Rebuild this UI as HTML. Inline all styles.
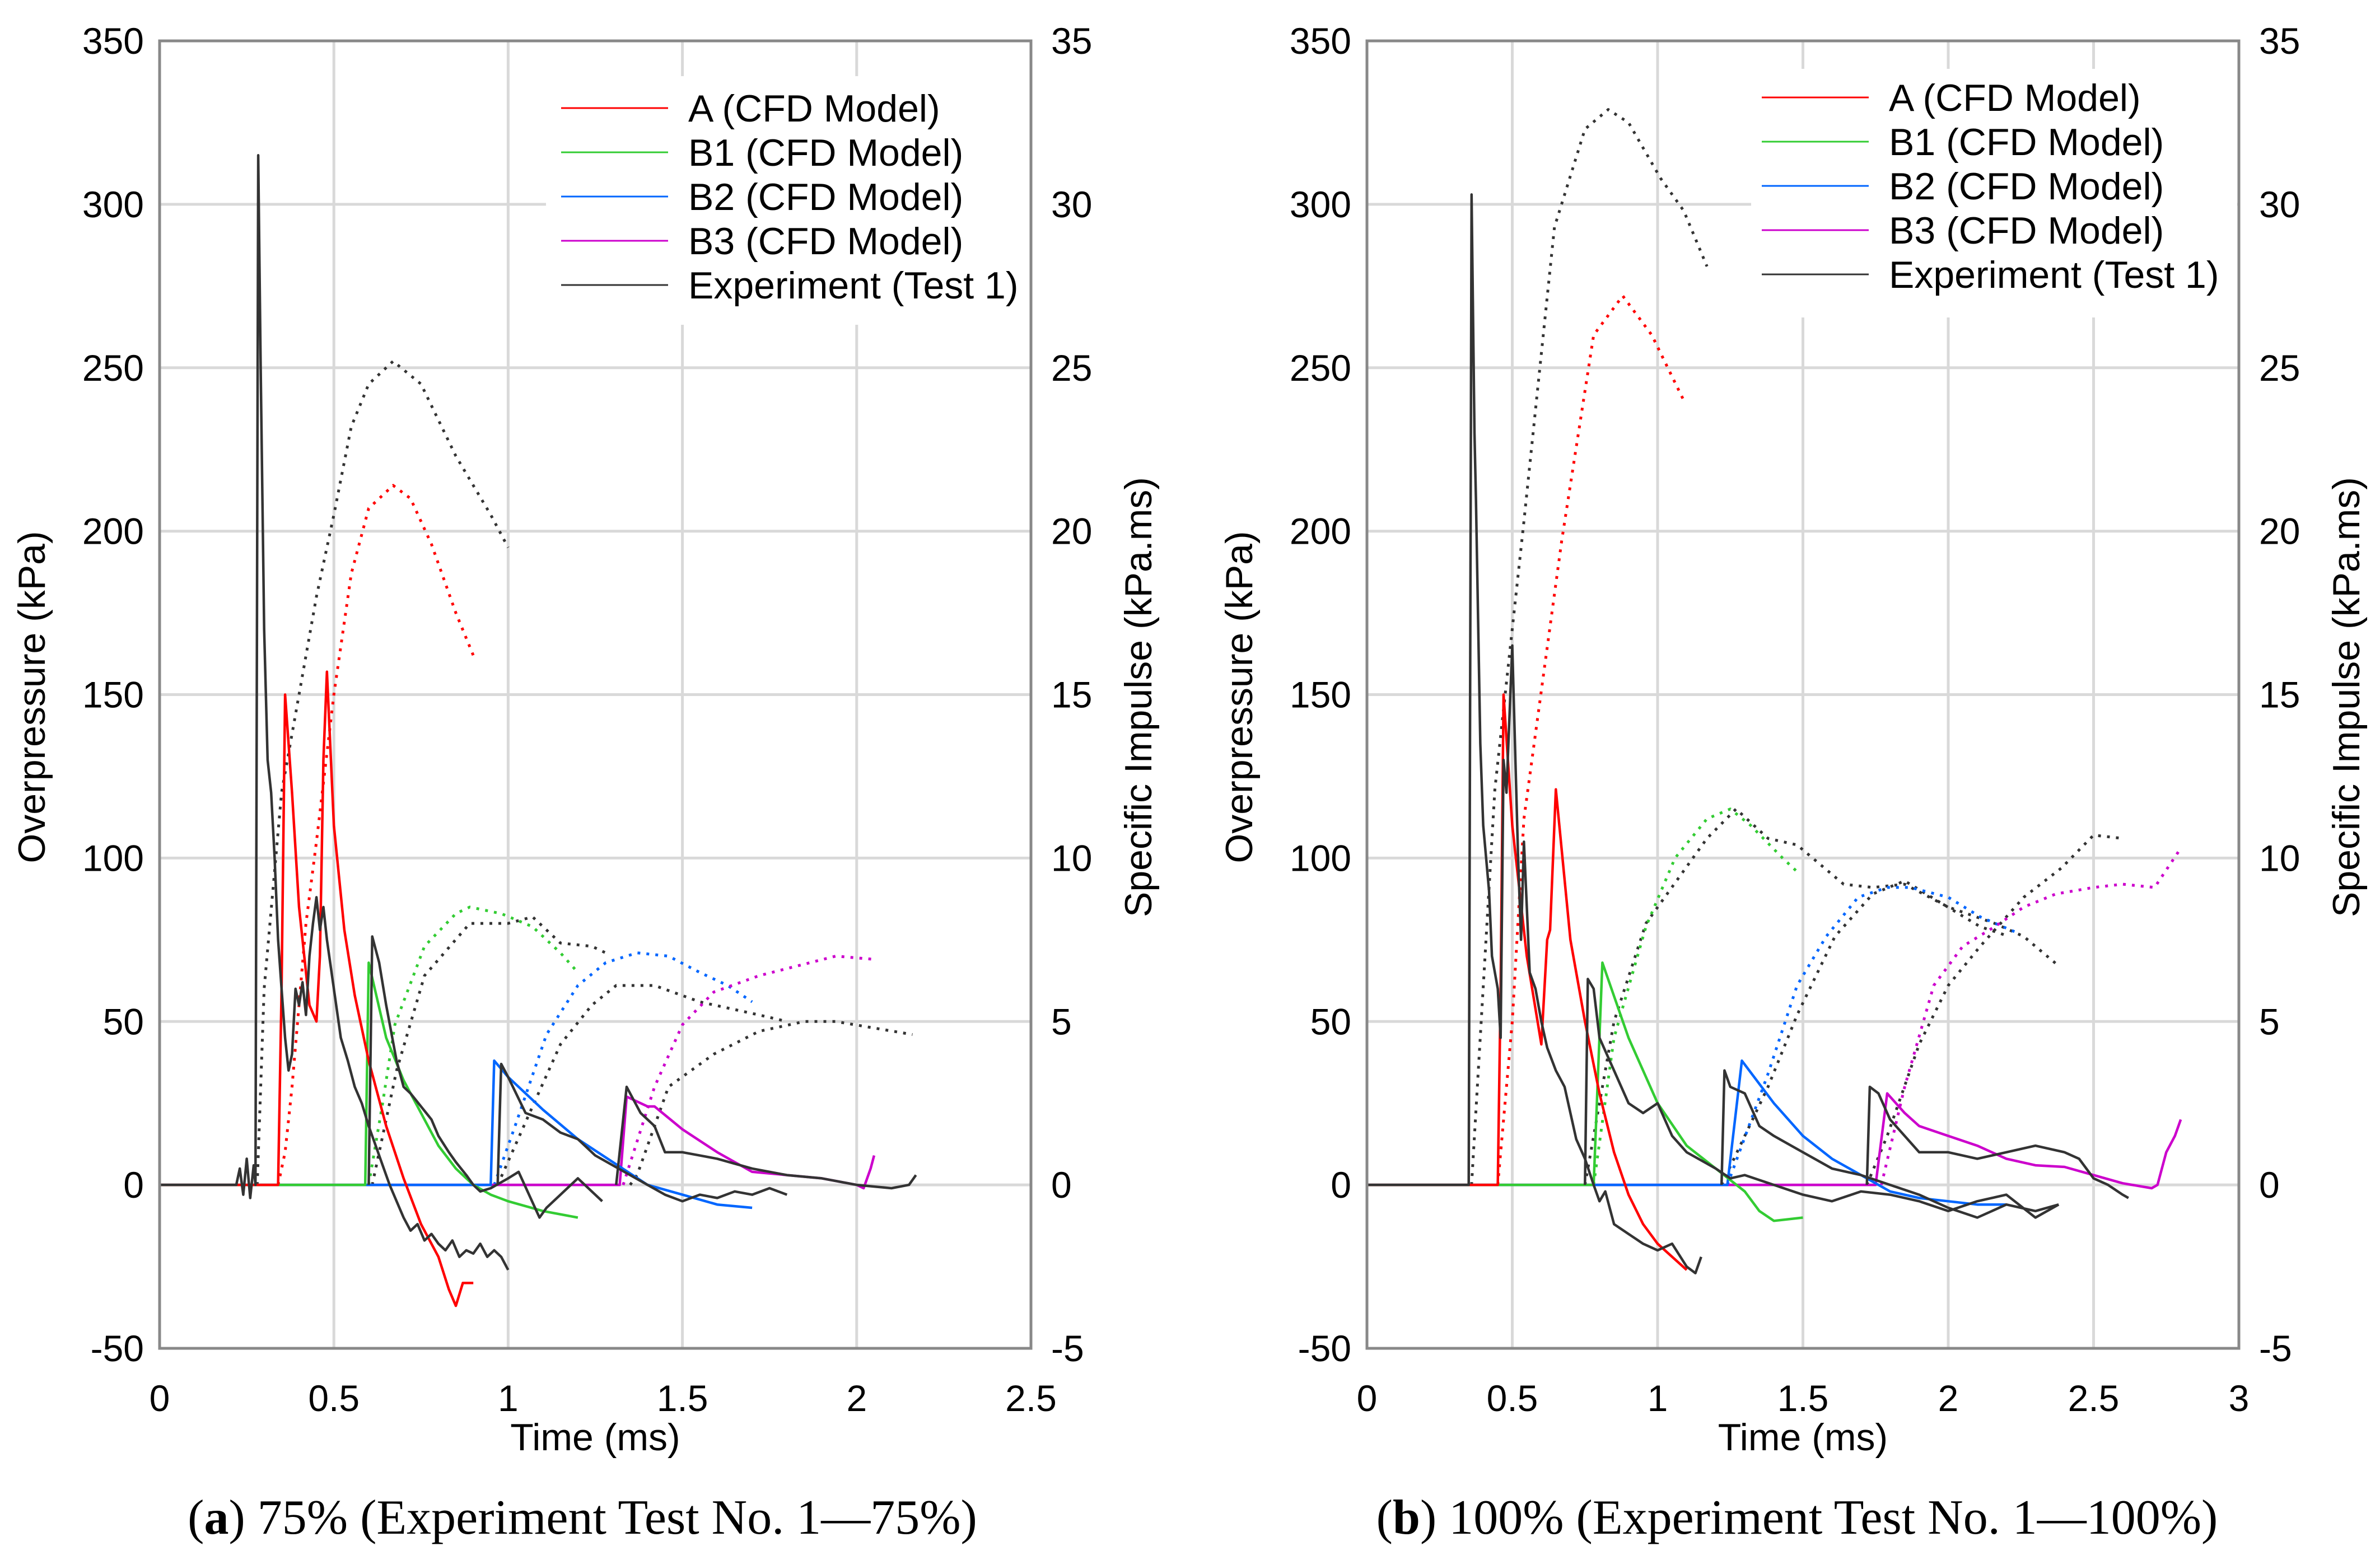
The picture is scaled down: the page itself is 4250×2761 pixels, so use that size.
<!DOCTYPE html>
<html><head><meta charset="utf-8"><style>
html,body{margin:0;padding:0;background:#fff;}
svg{display:block;}
text{font-family:"Liberation Sans",sans-serif;fill:#000;}
.cap{font-family:"Liberation Serif",serif;font-size:88px;}
</style></head><body>
<svg id="fig" xmlns="http://www.w3.org/2000/svg" width="4250" height="2761" viewBox="0 0 4250 2761">
<rect width="4250" height="2761" fill="#fff"/>
<text class="cap" x="1040" y="2739" text-anchor="middle">(<tspan font-weight="bold">a</tspan>) 75% (Experiment Test No. 1—75%)</text>
<text class="cap" x="3209" y="2739" text-anchor="middle">(<tspan font-weight="bold">b</tspan>) 100% (Experiment Test No. 1—100%)</text>
</svg>
<script>
// ---------- Left chart (75%) data ----------
const L_A_t = [0,0.34,0.35,0.36,0.38,0.40,0.43,0.45,0.46,0.47,0.48,0.50,0.53,0.56,0.60,0.65,0.70,0.75,0.80,0.83,0.85,0.87,0.90];
const L_A_p = [0,0,60,150,120,85,55,50,70,130,157,110,78,58,38,18,2,-12,-22,-32,-37,-30,-30];
const L_Ai_t = [0.34,0.36,0.38,0.42,0.45,0.50,0.55,0.60,0.67,0.72,0.78,0.85,0.90];
const L_Ai_v = [0,1,3,8,10.5,15,18.7,20.7,21.4,21,19.6,17.5,16.2];
const L_EA_t = [0,0.22,0.23,0.24,0.25,0.26,0.27,0.275,0.283,0.29,0.30,0.31,0.32,0.33,0.34,0.35,0.36,0.37,0.38,0.39,0.40,0.41,0.42,0.43,0.44,0.45,0.46,0.47,0.48,0.50,0.52,0.54,0.56,0.58,0.60,0.62,0.64,0.66,0.68,0.70,0.72,0.74,0.76,0.78,0.80,0.82,0.84,0.86,0.88,0.90,0.92,0.94,0.96,0.98,1.0];
const L_EA_p = [0,0,5,-3,8,-4,6,0,315,250,170,130,120,100,75,60,45,35,40,60,55,62,52,70,80,88,78,85,75,60,45,38,30,25,18,12,6,0,-5,-10,-14,-12,-17,-15,-18,-20,-17,-22,-20,-21,-18,-22,-20,-22,-26];
const L_EAi_t = [0.28,0.30,0.35,0.40,0.45,0.50,0.55,0.60,0.67,0.75,0.85,0.95,1.0];
const L_EAi_v = [0,6,12,15,18,20.5,23.2,24.5,25.2,24.5,22.3,20.5,19.5];
const L_B1_t = [0,0.59,0.60,0.65,0.70,0.75,0.80,0.85,0.90,0.95,1.0,1.1,1.2];
const L_B1_p = [0,0,68,45,32,22,12,5,0,-3,-5,-8,-10];
const L_B1i_t = [0.6,0.64,0.675,0.76,0.85,0.89,0.98,1.07,1.15,1.2];
const L_B1i_v = [0,2.5,4.9,7.3,8.3,8.5,8.3,7.9,7.1,6.5];
const L_EB1_t = [0.60,0.61,0.63,0.65,0.68,0.70,0.72,0.75,0.78,0.80,0.83,0.85,0.88,0.90,0.92,0.95,1.0,1.03,1.06,1.09,1.11,1.15,1.2,1.23,1.27];
const L_EB1_p = [0,76,68,55,38,30,28,24,20,15,10,7,3,0,-2,-1,2,4,-3,-10,-7,-3,2,-1,-5];
const L_EB1i_t = [0.61,0.68,0.76,0.89,1.0,1.07,1.15,1.24,1.28];
const L_EB1i_v = [0,3.5,6.4,8,8,8.2,7.4,7.3,7.1];
const L_B2_t = [0,0.95,0.96,1.0,1.1,1.2,1.3,1.4,1.5,1.6,1.7];
const L_B2_p = [0,0,38,33,23,14,7,0,-3,-6,-7];
const L_B2i_t = [0.96,1.02,1.11,1.2,1.28,1.37,1.46,1.55,1.63,1.7];
const L_B2i_v = [0,1.8,4.6,6.1,6.8,7.1,7.0,6.5,6.1,5.6];
const L_EB2_t = [0.97,0.98,1.0,1.05,1.1,1.15,1.2,1.25,1.3,1.35,1.4,1.45,1.5,1.55,1.6,1.65,1.7,1.75,1.8];
const L_EB2_p = [0,37,33,22,20,16,14,9,6,3,0,-3,-5,-3,-4,-2,-3,-1,-3];
const L_EB2i_t = [0.97,1.07,1.15,1.24,1.31,1.42,1.55,1.72,1.8];
const L_EB2i_v = [0,2.4,4.3,5.5,6.1,6.1,5.6,5.2,5.0];
const L_B3_t = [0,1.32,1.34,1.4,1.42,1.5,1.6,1.7,1.8,1.9,2.0,2.02,2.04,2.05];
const L_B3_p = [0,0,27,24,24,17,10,4,3,2,0,-1,5,9];
const L_B3i_t = [1.33,1.42,1.5,1.59,1.72,1.83,1.94,2.05];
const L_B3i_v = [0,3,4.9,5.9,6.4,6.7,7.0,6.9];
const L_EB3_t = [1.31,1.34,1.38,1.42,1.45,1.5,1.55,1.6,1.7,1.8,1.9,2.0,2.1,2.15,2.17];
const L_EB3_p = [0,30,22,18,10,10,9,8,5,3,2,0,-1,0,3];
const L_EB3i_t = [1.35,1.37,1.46,1.59,1.72,1.85,1.94,2.16];
const L_EB3i_v = [0,0.3,3,4,4.7,5,5,4.6];

// ---------- Right chart (100%) data ----------
const R_A_t = [0,0.45,0.46,0.47,0.50,0.55,0.60,0.62,0.63,0.65,0.70,0.75,0.80,0.85,0.90,0.95,1.0,1.1];
const R_A_p = [0,0,60,150,110,70,43,75,78,121,75,50,28,10,-3,-12,-18,-26];
const R_Ai_t = [0.45,0.5,0.54,0.67,0.78,0.88,0.98,1.09];
const R_Ai_v = [0,5,11.2,19.7,26,27.2,26,24];
const R_EA_t = [0,0.35,0.36,0.37,0.375,0.38,0.39,0.40,0.42,0.43,0.45,0.46,0.47,0.48,0.50,0.52,0.53,0.54,0.56,0.58,0.60,0.62,0.65,0.68,0.70,0.72,0.75,0.78,0.80,0.82,0.85,0.90,0.95,1.0,1.05,1.1,1.13,1.15];
const R_EA_p = [0,0,303,230,210,185,135,110,90,70,60,45,130,120,165,100,75,105,65,60,50,42,35,30,22,14,8,0,-5,-2,-12,-15,-18,-20,-18,-25,-27,-22];
const R_EAi_t = [0.36,0.44,0.54,0.645,0.75,0.83,0.9,1.01,1.09,1.17];
const R_EAi_v = [0,12.1,20.3,29.3,32.3,32.9,32.5,30.8,29.8,28.1];
const R_B1_t = [0,0.78,0.81,0.9,1.0,1.1,1.2,1.3,1.35,1.4,1.5];
const R_B1_p = [0,0,68,45,25,12,5,-2,-8,-11,-10];
const R_B1i_t = [0.78,0.85,0.96,1.06,1.17,1.25,1.32,1.43,1.49];
const R_B1i_v = [0,4.5,7.9,10,11.2,11.5,11,10,9.5];
const R_EB1_t = [0.75,0.76,0.78,0.8,0.85,0.9,0.95,1.0,1.05,1.1,1.2,1.25,1.3,1.4,1.5,1.6,1.7,1.8,1.9,2.0,2.1,2.2,2.3,2.38];
const R_EB1_p = [0,63,60,45,35,25,22,25,15,10,5,2,3,0,-3,-5,-2,-3,-5,-8,-5,-3,-10,-6];
const R_EB1i_t = [0.75,0.85,0.96,1.17,1.27,1.38,1.48,1.64,1.74,1.85,2.0,2.16,2.26,2.38];
const R_EB1i_v = [0,5,8,10.6,11.5,10.6,10.4,9.2,9.1,9.2,8.5,8,7.6,6.7];
const R_B2_t = [0,1.24,1.29,1.4,1.5,1.6,1.7,1.8,1.9,2.0,2.1,2.2];
const R_B2_p = [0,0,38,25,15,8,3,-2,-4,-5,-6,-6];
const R_B2i_t = [1.24,1.38,1.48,1.58,1.69,1.79,1.87,2.0,2.11,2.24];
const R_B2i_v = [0,3.4,6.1,7.6,8.8,9.1,9.1,8.8,8.2,7.7];
const R_EB2_t = [1.22,1.23,1.25,1.3,1.35,1.4,1.5,1.6,1.7,1.8,1.9,2.0,2.1,2.2,2.3,2.38];
const R_EB2_p = [0,35,30,28,18,15,10,5,3,0,-3,-7,-10,-6,-8,-6];
const R_EB2i_t = [1.22,1.38,1.48,1.61,1.74,1.85,1.98,2.11,2.21];
const R_EB2i_v = [0,3,5.2,7.6,8.9,9.3,8.6,7.9,7.6];
const R_B3_t = [0,1.75,1.79,1.85,1.9,2.0,2.1,2.2,2.3,2.4,2.5,2.6,2.7,2.72,2.75,2.78,2.8];
const R_B3_p = [0,0,28,22,18,15,12,8,6,5.5,3,0.5,-1,0,10,15,20];
const R_B3i_t = [1.77,1.85,1.95,2.05,2.16,2.26,2.37,2.5,2.6,2.71,2.8];
const R_B3i_v = [0,3,6.1,7.3,7.9,8.5,8.9,9.1,9.2,9.1,10.3];
const R_EB3_t = [1.72,1.73,1.76,1.8,1.85,1.9,2.0,2.1,2.2,2.3,2.4,2.45,2.5,2.55,2.6,2.62];
const R_EB3_p = [0,30,28,20,15,10,10,8,10,12,10,8,2,0,-3,-4];
const R_EB3i_t = [1.72,1.79,1.9,2.0,2.11,2.26,2.39,2.5,2.6];
const R_EB3i_v = [0,1.5,4.3,6.1,7.3,8.8,9.7,10.7,10.6];

// ---------- axis ticks & legend ----------
const yTicksLeft = [-50,0,50,100,150,200,250,300,350];
const yTicksRight = [-5,0,5,10,15,20,25,30,35];
const xTicksA = [0,0.5,1,1.5,2,2.5];
const xTicksB = [0,0.5,1,1.5,2,2.5,3];
const legendLabels = ["A (CFD Model)","B1 (CFD Model)","B2 (CFD Model)","B3 (CFD Model)","Experiment (Test 1)"];
const legendColors = ["#ff0000","#33cc33","#0066ff","#cc00cc","#333333"];

const NS = "http://www.w3.org/2000/svg";
const svg = document.getElementById('fig');
function mk(tag, attrs, parent){ const e=document.createElementNS(NS,tag); for(const k in attrs) e.setAttribute(k,attrs[k]); (parent||svg).appendChild(e); return e; }

function drawChart(c){
  const g = mk('g',{});
  
  
  const xS = t => c.x0 + (t - 0) / c.xMax * (c.x1 - c.x0);
  const yS = p => c.y1 - (p + 50) / 400 * (c.y1 - c.y0);
  const yS2 = v => yS(v * 10);
  c.xTicks.forEach(t=>{ const l=mk('line',{x1:xS(t),x2:xS(t),y1:c.y0,y2:c.y1,stroke:'#d9d9d9','stroke-width':5},g);
      });
  yTicksLeft.forEach(p=>{ const l=mk('line',{x1:c.x0,x2:c.x1,y1:yS(p),y2:yS(p),stroke:'#d9d9d9','stroke-width':5},g);
      });
  c.series.forEach(s=>{
    const d = s.t.map((t,i)=>(i?'L':'M')+xS(t).toFixed(1)+' '+(s.imp?yS2(s.v[i]):yS(s.v[i])).toFixed(1)).join(' ');
    const attrs = {d:d,fill:'none',stroke:s.color,'stroke-width':s.imp?5:4.5,'stroke-linejoin':'round'};
    if(s.imp){ attrs['stroke-dasharray']='5 11'; }
    const p = mk('path',attrs,g);
    
    
  });
  const lb = mk('rect',{x:c.lgBox[0],y:c.lgBox[1],width:c.lgBox[2],height:c.lgBox[3],fill:'#fff'},g);
  
  
  legendLabels.forEach((lab,i)=>{
    const y = c.lgY + i*79;
    const ln = mk('line',{x1:c.lgX,x2:c.lgX+191,y1:y,y2:y,stroke:legendColors[i],'stroke-width':3},g);
    
    
    const tx = mk('text',{x:c.lgX+227,y:y+24,'font-size':68},g);
    tx.textContent = lab;
    
    
  });
  const fr = mk('rect',{x:c.x0,y:c.y0,width:c.x1-c.x0,height:c.y1-c.y0,fill:'none',stroke:'#888','stroke-width':5},g);
  
  
  yTicksLeft.forEach(p=>{ const t=mk('text',{x:c.x0-28,y:yS(p)+23,'font-size':66,'text-anchor':'end'},g); t.textContent=p;
      });
  yTicksRight.forEach(v=>{ const t=mk('text',{x:c.x1+36,y:yS2(v)+23,'font-size':66},g); t.textContent=v;
      });
  c.xTicks.forEach(v=>{ const t=mk('text',{x:xS(v),y:2520,'font-size':66,'text-anchor':'middle'},g); t.textContent=v;
      });
  const xt = mk('text',{x:(c.x0+c.x1)/2,y:2590,'font-size':68,'text-anchor':'middle'},g); xt.textContent='Time (ms)';
   
  const cy = 1245;
  const yt = mk('text',{x:c.x0-228,y:cy,'font-size':68,'text-anchor':'middle','dominant-baseline':'central',transform:`rotate(-90 ${c.x0-228} ${cy})`},g);
  yt.textContent='Overpressure (kPa)';
   
  const y2 = mk('text',{x:c.x1+192,y:cy,'font-size':68,'text-anchor':'middle','dominant-baseline':'central',transform:`rotate(-90 ${c.x1+192} ${cy})`},g);
  y2.textContent='Specific Impulse (kPa.ms)';
   
}

const R='#ff0000',G='#33cc33',B='#0066ff',M='#cc00cc',K='#333333';
drawChart({name:'chart-75-percent',x0:285,x1:1841,y0:73,y1:2408,xMax:2.5,xTicks:xTicksA,
  lgBox:[975,136,866,444],lgX:1002,lgY:193,
  series:[
    {name:'exp-a-impulse',t:L_EAi_t,v:L_EAi_v,color:K,imp:true},
    {name:'exp-b1-impulse',t:L_EB1i_t,v:L_EB1i_v,color:K,imp:true},
    {name:'exp-b2-impulse',t:L_EB2i_t,v:L_EB2i_v,color:K,imp:true},
    {name:'exp-b3-impulse',t:L_EB3i_t,v:L_EB3i_v,color:K,imp:true},
    {name:'a-impulse',t:L_Ai_t,v:L_Ai_v,color:R,imp:true},
    {name:'b1-impulse',t:L_B1i_t,v:L_B1i_v,color:G,imp:true},
    {name:'b2-impulse',t:L_B2i_t,v:L_B2i_v,color:B,imp:true},
    {name:'b3-impulse',t:L_B3i_t,v:L_B3i_v,color:M,imp:true},
    {name:'b3-pressure',t:L_B3_t,v:L_B3_p,color:M},
    {name:'b2-pressure',t:L_B2_t,v:L_B2_p,color:B},
    {name:'b1-pressure',t:L_B1_t,v:L_B1_p,color:G},
    {name:'a-pressure',t:L_A_t,v:L_A_p,color:R},
    {name:'exp-a-pressure',t:L_EA_t,v:L_EA_p,color:K},
    {name:'exp-b1-pressure',t:L_EB1_t,v:L_EB1_p,color:K},
    {name:'exp-b2-pressure',t:L_EB2_t,v:L_EB2_p,color:K},
    {name:'exp-b3-pressure',t:L_EB3_t,v:L_EB3_p,color:K}
  ]});
drawChart({name:'chart-100-percent',x0:2441,x1:3998,y0:73,y1:2408,xMax:3,xTicks:xTicksB,
  lgBox:[3127,123,868,444],lgX:3146,lgY:174,
  series:[
    {name:'exp-a-impulse',t:R_EAi_t,v:R_EAi_v,color:K,imp:true},
    {name:'exp-b1-impulse',t:R_EB1i_t,v:R_EB1i_v,color:K,imp:true},
    {name:'exp-b2-impulse',t:R_EB2i_t,v:R_EB2i_v,color:K,imp:true},
    {name:'exp-b3-impulse',t:R_EB3i_t,v:R_EB3i_v,color:K,imp:true},
    {name:'a-impulse',t:R_Ai_t,v:R_Ai_v,color:R,imp:true},
    {name:'b1-impulse',t:R_B1i_t,v:R_B1i_v,color:G,imp:true},
    {name:'b2-impulse',t:R_B2i_t,v:R_B2i_v,color:B,imp:true},
    {name:'b3-impulse',t:R_B3i_t,v:R_B3i_v,color:M,imp:true},
    {name:'b3-pressure',t:R_B3_t,v:R_B3_p,color:M},
    {name:'b2-pressure',t:R_B2_t,v:R_B2_p,color:B},
    {name:'b1-pressure',t:R_B1_t,v:R_B1_p,color:G},
    {name:'a-pressure',t:R_A_t,v:R_A_p,color:R},
    {name:'exp-a-pressure',t:R_EA_t,v:R_EA_p,color:K},
    {name:'exp-b1-pressure',t:R_EB1_t,v:R_EB1_p,color:K},
    {name:'exp-b2-pressure',t:R_EB2_t,v:R_EB2_p,color:K},
    {name:'exp-b3-pressure',t:R_EB3_t,v:R_EB3_p,color:K}
  ]});
</script>
</body></html>
